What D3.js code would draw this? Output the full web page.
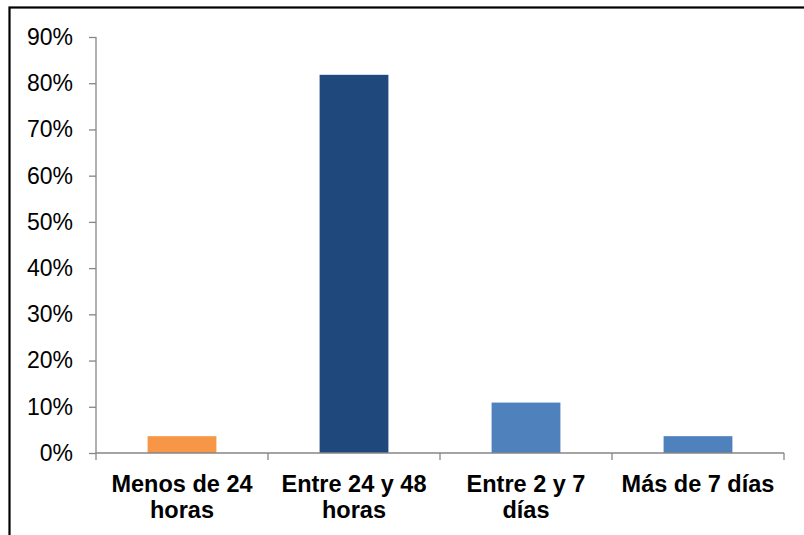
<!DOCTYPE html>
<html>
<head>
<meta charset="utf-8">
<script src="https://cdn.jsdelivr.net/npm/d3@7"></script>
<style>
  html, body { margin: 0; padding: 0; background: #fff; }
  svg { display: block; }
  text { font-family: "Liberation Sans", Arial, Helvetica, sans-serif; fill: #000; }
</style>
</head>
<body>
<svg id="chart" width="804" height="535"></svg>
<script>
// Tiempo de respuesta: share of cases per time bracket
const categories = [["Menos de 24", "horas"], ["Entre 24 y 48", "horas"], ["Entre 2 y 7", "días"], ["Más de 7 días"]];
const values = [0.0364, 0.8182, 0.1091, 0.0364];
const barColors = ["#F79646", "#1F497D", "#4F81BD", "#4F81BD"];
const yTicks = [0, 0.1, 0.2, 0.3, 0.4, 0.5, 0.6, 0.7, 0.8, 0.9];

const svg = d3.select("#chart");
const W = 804, H = 535;

// outer frame (open on the right and bottom edges of the page)
svg.append("rect")
  .attr("x", 9.5).attr("y", 7.5)
  .attr("width", W + 10).attr("height", H + 10)
  .attr("fill", "none").attr("stroke", "#000").attr("stroke-width", 2.2);

const plot = { left: 96, right: 784, top: 37, bottom: 453 };
const keys = categories.map((c, i) => i);

const x = d3.scaleBand().domain(keys).range([plot.left, plot.right]).paddingInner(0.6).paddingOuter(0.3);
const xb = d3.scaleBand().domain(keys).range([plot.left, plot.right]);
const y = d3.scaleLinear().domain([0, 0.9]).range([plot.bottom, plot.top]);

// bars
svg.append("g").selectAll("rect").data(values).join("rect")
  .attr("x", (d, i) => x(i))
  .attr("width", x.bandwidth())
  .attr("y", d => y(d))
  .attr("height", d => y(0) - y(d))
  .attr("fill", (d, i) => barColors[i]);

const axisColor = "#868686";

// y axis
const yAxis = svg.append("g").attr("transform", `translate(${plot.left},0)`)
  .call(d3.axisLeft(y).tickValues(yTicks).tickFormat(d3.format(".0%")).tickSize(7).tickPadding(16));
yAxis.select(".domain").attr("stroke", axisColor).attr("stroke-width", 1.3).attr("d", `M-0,${plot.top}V${plot.bottom}`);
yAxis.selectAll(".tick line").attr("stroke", axisColor).attr("stroke-width", 1.3);
yAxis.selectAll(".tick text").attr("font-size", 23).attr("fill", "#000")
  .attr("font-family", "'Liberation Sans', Arial, sans-serif");

// x axis: baseline plus boundary ticks between categories
const xg = svg.append("g");
xg.append("line")
  .attr("x1", plot.left).attr("x2", plot.right)
  .attr("y1", plot.bottom).attr("y2", plot.bottom)
  .attr("stroke", axisColor).attr("stroke-width", 1.3);
const bounds = keys.map(i => xb(i)).concat([plot.right]);
xg.selectAll("line.bt").data(bounds).join("line").attr("class", "bt")
  .attr("x1", d => d).attr("x2", d => d)
  .attr("y1", plot.bottom).attr("y2", plot.bottom + 7)
  .attr("stroke", axisColor).attr("stroke-width", 1.3);

// category labels
const lab = svg.append("g").selectAll("text").data(categories).join("text")
  .attr("x", (d, i) => xb(i) + xb.bandwidth() / 2)
  .attr("y", 492)
  .attr("text-anchor", "middle")
  .attr("font-size", 23.5)
  .attr("font-weight", "bold");
lab.selectAll("tspan").data(d => d).join("tspan")
  .attr("x", function () { return d3.select(this.parentNode).attr("x"); })
  .attr("dy", (d, i) => i === 0 ? 0 : 26)
  .text(d => d);
</script>
</body>
</html>
